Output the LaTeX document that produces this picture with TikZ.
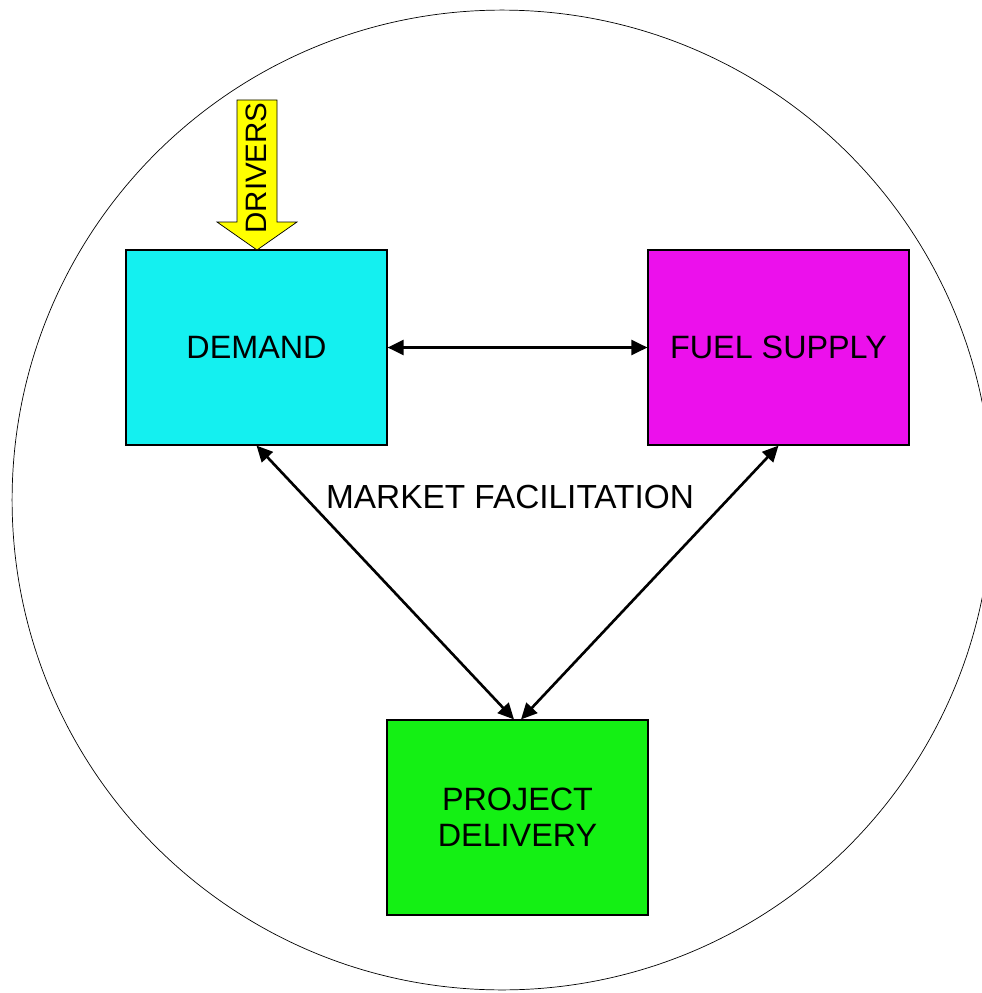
\documentclass[tikz,border=0pt]{standalone}
\usepackage{fontspec}
\setmainfont{Liberation Sans}
\usetikzlibrary{arrows.meta}
\definecolor{demandcyan}{RGB}{20,240,240}
\definecolor{fuelmagenta}{RGB}{236,16,236}
\definecolor{projectgreen}{RGB}{20,240,20}
\definecolor{driveryellow}{RGB}{255,255,0}

\begin{document}
\begin{tikzpicture}[x=0.02cm, y=-0.02cm,
		box/.style={draw=black, line width=0.7pt, minimum width=5.22cm, minimum height=3.9cm, align=center, font=\fontsize{18.4}{20.5}\selectfont},
		link/.style={<->, >={Triangle[length=0.32cm, width=0.3cm]}, line width=1.5pt}]
					\useasboundingbox (0,0) rectangle (981,993);
					\draw[thin] (502,500) circle (9.8cm);
					\node[box, fill=demandcyan] (demand) at (256.5,347.5) {DEMAND};
					\node[box, fill=fuelmagenta] (fuel) at (778.5,347.5) {FUEL SUPPLY};
					\node[box, fill=projectgreen] (project) at (517.5,817.5) {PROJECT\\DELIVERY};
					\draw[fill=driveryellow, thin] (237,100) -- (277,100) -- (277,222) -- (297,222) -- (257,250) -- (217,222) -- (237,222) -- cycle;
					\node[rotate=90, font=\fontsize{16.8}{18}\selectfont] (drivers) at (256,168) {DRIVERS};
					\node[font=\fontsize{19}{21}\selectfont] (market) at (510,497) {MARKET FACILITATION};
					\draw[link] (demand) to (fuel);
					\draw[link] (demand.south) to ([xshift=-2pt]project.north);
					\draw[link] (fuel.south) to ([xshift=2pt]project.north);
				\end{tikzpicture}
\end{document}
